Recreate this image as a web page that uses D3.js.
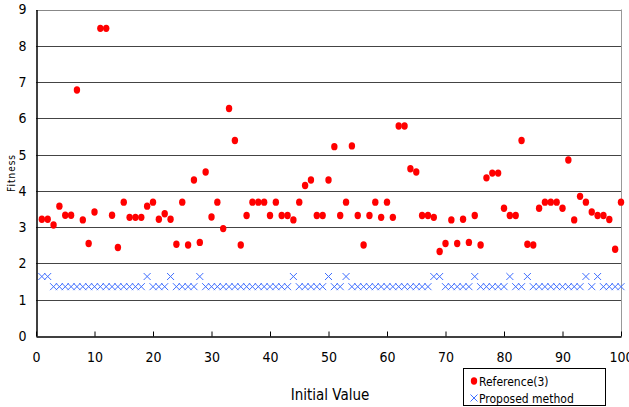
<!DOCTYPE html>
<html lang="en">
    <head>
        <meta charset="utf-8">
        <title>Fitness vs Initial Value</title>
        <script type="text/javascript" src="https://cdn.jsdelivr.net/npm/d3@7"></script>
        <style>
            body { margin: 0; background: #fff; }
            text { font-family: "Liberation Sans Narrow", "DejaVu Sans Condensed", "Liberation Sans", sans-serif; }
        </style>
    </head>
    <body>
        <script type="text/javascript">
            var w = 629;
            var h = 407;

            // Reference(3) fitness for initial value 1..100
            var reference = [
                3.22, 3.22, 3.06, 3.58, 3.33, 3.33, 6.78, 3.20, 2.55, 3.42,
                8.48, 8.48, 3.33, 2.44, 3.69, 3.27, 3.27, 3.27, 3.58, 3.69,
                3.22, 3.37, 3.22, 2.53, 3.69, 2.51, 4.30, 2.58, 4.52, 3.28,
                3.69, 2.96, 6.27, 5.39, 2.51, 3.32, 3.69, 3.69, 3.69, 3.32,
                3.69, 3.32, 3.32, 3.20, 3.69, 4.15, 4.30, 3.32, 3.32, 4.30,
                5.22, 3.32, 3.69, 5.24, 3.32, 2.51, 3.32, 3.69, 3.27, 3.69,
                3.27, 5.79, 5.79, 4.61, 4.52, 3.32, 3.32, 3.27, 2.33, 2.55,
                3.20, 2.55, 3.22, 2.58, 3.32, 2.51, 4.36, 4.49, 4.49, 3.52,
                3.32, 3.32, 5.39, 2.53, 2.51, 3.52, 3.69, 3.69, 3.69, 3.52,
                4.85, 3.20, 3.85, 3.69, 3.42, 3.32, 3.32, 3.21, 2.39, 3.69
            ];
            // Proposed method fitness for initial value 1..100
            var proposed = [
                1.64, 1.64, 1.36, 1.36, 1.36, 1.36, 1.36, 1.36, 1.36, 1.36,
                1.36, 1.36, 1.36, 1.36, 1.36, 1.36, 1.36, 1.36, 1.64, 1.36,
                1.36, 1.36, 1.64, 1.36, 1.36, 1.36, 1.36, 1.64, 1.36, 1.36,
                1.36, 1.36, 1.36, 1.36, 1.36, 1.36, 1.36, 1.36, 1.36, 1.36,
                1.36, 1.36, 1.36, 1.64, 1.36, 1.36, 1.36, 1.36, 1.36, 1.64,
                1.36, 1.36, 1.64, 1.36, 1.36, 1.36, 1.36, 1.36, 1.36, 1.36,
                1.36, 1.36, 1.36, 1.36, 1.36, 1.36, 1.36, 1.64, 1.64, 1.36,
                1.36, 1.36, 1.36, 1.36, 1.64, 1.36, 1.36, 1.36, 1.36, 1.36,
                1.64, 1.36, 1.36, 1.64, 1.36, 1.36, 1.36, 1.36, 1.36, 1.36,
                1.36, 1.36, 1.36, 1.64, 1.36, 1.64, 1.36, 1.36, 1.36, 1.36
            ];
            var xTicks = [0, 10, 20, 30, 40, 50, 60, 70, 80, 90, 100];
            var yTicks = [0, 1, 2, 3, 4, 5, 6, 7, 8, 9];
            var seriesNames = ["Reference(3)", "Proposed method"];

            var svg = d3.select("body").append("svg").attr("width", w).attr("height", h);

            var xscale = d3.scaleLinear().domain([0, 100]).range([36, 621]);
            var yscale = d3.scaleLinear().domain([0, 9]).range([336, 9.5]);

            // horizontal grid lines
            svg.selectAll("line.grid").data(yTicks.slice(1)).enter().append("line")
               .attr("class", "grid")
               .attr("x1", xscale(0)).attr("x2", xscale(100))
               .attr("y1", function (d) { return Math.round(yscale(d)) + 0.5; })
               .attr("y2", function (d) { return Math.round(yscale(d)) + 0.5; })
               .attr("stroke", function (d) { return d == 9 ? "#888" : "#444"; })
               .attr("stroke-width", 1);

            // right border of plot area
            svg.append("line")
               .attr("x1", Math.round(xscale(100)) + 0.5).attr("x2", Math.round(xscale(100)) + 0.5)
               .attr("y1", yscale(9)).attr("y2", yscale(0))
               .attr("stroke", "#999");

            var xAxis = svg.append("g")
               .attr("transform", "translate(0," + (Math.round(yscale(0)) + 0.5) + ")")
               .call(d3.axisBottom(xscale).tickValues(xTicks).tickSize(-5).tickSizeOuter(0).tickPadding(16));
            xAxis.select(".domain").attr("stroke", "#000").attr("stroke-width", 1.5);
            xAxis.selectAll("line").attr("stroke", "#000");
            xAxis.selectAll("text").attr("font-size", "14px").attr("fill", "#000")
                 .attr("font-family", "'Liberation Sans Narrow', 'DejaVu Sans Condensed', sans-serif");

            var yAxis = svg.append("g")
               .attr("transform", "translate(" + (Math.round(xscale(0)) + 0.5) + ",0)")
               .call(d3.axisLeft(yscale).tickValues(yTicks).tickSize(0).tickPadding(10));
            yAxis.select(".domain").attr("stroke", "#000").attr("stroke-width", 1.5);
            yAxis.selectAll("text").attr("font-size", "14px").attr("fill", "#000")
                 .attr("font-family", "'Liberation Sans Narrow', 'DejaVu Sans Condensed', sans-serif");

            // axis titles
            svg.append("text")
               .text("Initial Value")
               .attr("x", 330).attr("y", 400)
               .attr("text-anchor", "middle")
               .attr("font-size", "15px");

            svg.append("text")
               .text("Fitness")
               .attr("transform", "translate(15,173) rotate(-90)")
               .attr("text-anchor", "middle")
               .attr("font-size", "10px")
               .attr("letter-spacing", "1px");

            // Reference(3) red dots
            svg.selectAll("ellipse.ref").data(reference).enter().append("ellipse")
               .attr("class", "ref")
               .attr("cx", function (d, i) { return xscale(i + 1); })
               .attr("cy", function (d) { return yscale(d); })
               .attr("rx", 3.2).attr("ry", 3.7)
               .attr("fill", "#ff0000");

            // Proposed method blue crosses
            function cross(cx, cy, s) {
                return "M" + (cx - s) + "," + (cy - s) + "L" + (cx + s) + "," + (cy + s) +
                       "M" + (cx - s) + "," + (cy + s) + "L" + (cx + s) + "," + (cy - s);
            }
            svg.selectAll("path.prop").data(proposed).enter().append("path")
               .attr("class", "prop")
               .attr("d", function (d, i) { return cross(xscale(i + 1), yscale(d), 3.5); })
               .attr("stroke", "#3f6fff")
               .attr("stroke-width", 1)
               .attr("fill", "none");

            // legend
            var legend = svg.append("g");
            legend.append("rect")
               .attr("x", 463.5).attr("y", 368.5).attr("width", 142).attr("height", 37)
               .attr("fill", "#fff").attr("stroke", "#000");
            legend.append("ellipse")
               .attr("cx", 474).attr("cy", 381).attr("rx", 3.2).attr("ry", 3.7)
               .attr("fill", "#ff0000");
            legend.append("path")
               .attr("d", cross(474, 398, 3.5))
               .attr("stroke", "#3f6fff").attr("fill", "none");
            legend.selectAll("text").data(seriesNames).enter().append("text")
               .text(function (d) { return d; })
               .attr("x", 479)
               .attr("y", function (d, i) { return 385.5 + i * 17; })
               .attr("font-size", "12px");
        </script>
    </body>
</html>
